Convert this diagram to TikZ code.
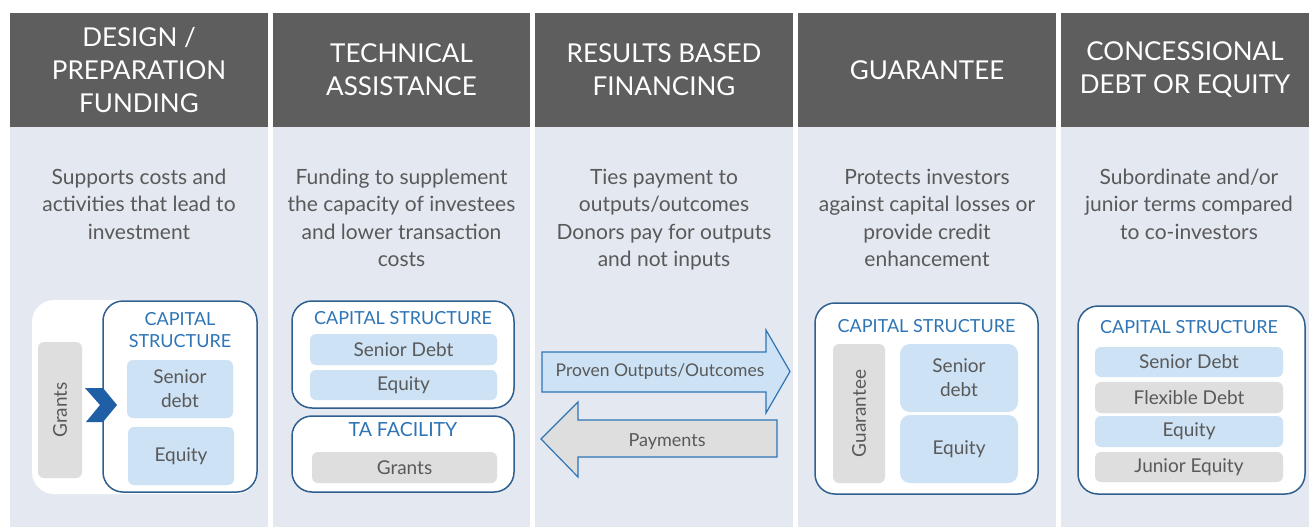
\documentclass[tikz,border=0pt]{standalone}
\usepackage{fontspec}
\setmainfont{Lato}

\definecolor{headgrey}{HTML}{5E5E5E}
\definecolor{bodyblue}{HTML}{E4E9F1}
\definecolor{textgrey}{HTML}{595959}
\definecolor{titleblue}{HTML}{2E75B6}
\definecolor{boxblue}{HTML}{2F5F8F}
\definecolor{barblue}{HTML}{CDE2F5}
\definecolor{bargrey}{HTML}{DEDEDE}
\definecolor{chevblue}{HTML}{1F5FA6}

\begin{document}
\begin{tikzpicture}[x = 1pt, y = -1pt,
	header/.style = {fill = headgrey, text = white, align = center, inner sep = 0,
		minimum height = 114pt, font = \fontsize{26}{33}\selectfont},
	body/.style = {fill = bodyblue, inner sep = 0, minimum height = 400pt},
	blurb/.style = {text = textgrey, align = center, inner sep = 0, anchor = north,
		font = \fontsize{21}{27.5}\selectfont},
	capbox/.style = {draw = boxblue, line width = 1.5pt, fill = white, rounded corners = 20pt, inner sep = 0},
	captitle/.style = {text = titleblue, align = center, inner sep = 0, font = \fontsize{18}{22}\selectfont},
	bar/.style = {text = textgrey, align = center, inner sep = 0, rounded corners = 6pt,
		font = \fontsize{19}{24}\selectfont},
	bluebar/.style = {bar, fill = barblue},
	greybar/.style = {bar, fill = bargrey}]
	
	\useasboundingbox (0, 0) rectangle (1309, 527);
	
	% Column headers and backgrounds
	
	\node [header, minimum width = 258pt] (h1) at (139, 70) {DESIGN /\\PREPARATION\\FUNDING};
	\node [header, minimum width = 257pt] (h2) at (401.5, 70) {TECHNICAL\\ASSISTANCE};
	\node [header, minimum width = 258pt] (h3) at (664, 70) {RESULTS BASED\\FINANCING};
	\node [header, minimum width = 258pt] (h4) at (927, 70) {GUARANTEE};
	\node [header, minimum width = 248pt] (h5) at (1185, 70) {CONCESSIONAL\\DEBT OR EQUITY};
	
	\node [body, minimum width = 258pt] (b1) at (139, 327) {};
	\node [body, minimum width = 257pt] (b2) at (401.5, 327) {};
	\node [body, minimum width = 258pt] (b3) at (664, 327) {};
	\node [body, minimum width = 258pt] (b4) at (927, 327) {};
	\node [body, minimum width = 248pt] (b5) at (1185, 327) {};
	
	% Descriptions
	
	\node [blurb] (d1) at (139, 168.5) {Supports costs and\\activities that lead to\\investment};
	\node [blurb] (d2) at (401.5, 168.5) {Funding to supplement\\the capacity of investees\\and lower transaction\\costs};
	\node [blurb] (d3) at (664, 168.5) {Ties payment to\\outputs/outcomes\\Donors pay for outputs\\and not inputs};
	\node [blurb] (d4) at (927, 168.5) {Protects investors\\against capital losses or\\provide credit\\enhancement};
	\node [blurb] (d5) at (1189, 168.5) {Subordinate and/or\\junior terms compared\\to co-investors};
	
	% Design / preparation funding
	
	\node [fill = white, rounded corners = 22pt, minimum width = 226pt, minimum height = 194pt] (p1) at (145, 397) {};
	\node [capbox, minimum width = 154pt, minimum height = 191pt] (c1) at (180, 396.5) {};
	\node [captitle] (t1) at (180, 330) {CAPITAL\\STRUCTURE};
	\node [bluebar, minimum width = 106pt, minimum height = 58pt] (s1) at (180, 389) {Senior\\debt};
	\node [bluebar, minimum width = 106pt, minimum height = 58pt] (e1) at (181, 456) {Equity};
	\node [greybar, minimum width = 44pt, minimum height = 136pt] (g1) at (60, 410) {};
	\node [text = textgrey, rotate = 90, font = \fontsize{19}{24}\selectfont] at (g1) {Grants};
	\fill [chevblue] (85, 388) -- (103, 388) -- (117, 405) -- (103, 422) -- (86, 422) -- (100, 405) -- cycle;
	
	% Technical assistance
	
	\node [capbox, minimum width = 222pt, minimum height = 107pt] (c2) at (403, 354.5) {};
	\node [captitle] (t2) at (403, 318) {CAPITAL STRUCTURE};
	\node [bluebar, minimum width = 187pt, minimum height = 31pt] (s2) at (403.5, 349.5) {Senior Debt};
	\node [bluebar, minimum width = 187pt, minimum height = 30pt] (e2) at (403.5, 385) {Equity};
	
	\node [capbox, minimum width = 222pt, minimum height = 76pt] (ta) at (403, 454) {};
	\node [captitle, font = \fontsize{19.5}{24}\selectfont] (t3) at (403, 430) {TA FACILITY};
	\node [greybar, minimum width = 185pt, minimum height = 31pt] (g2) at (404.5, 467.5) {Grants};
	
	% Results based financing
	
	\begin{scope}[draw = titleblue, line width = 1.2pt]
	
		\filldraw [fill = barblue] (542, 352) -- (766, 352) -- (766, 330) -- (790, 371.5)
			-- (766, 413) -- (766, 392) -- (542, 392) -- cycle;
		\filldraw [fill = bargrey] (777, 420) -- (578, 420) -- (578, 402) -- (541, 439)
			-- (578, 477) -- (578, 457) -- (777, 457) -- cycle;
		
	\end{scope}
	
	\node [text = textgrey, font = \fontsize{17.5}{20}\selectfont] (po) at (660, 372) {Proven Outputs/Outcomes};
	\node [text = textgrey, font = \fontsize{18}{22}\selectfont] (pay) at (667, 442) {Payments};
	
	% Guarantee
	
	\node [capbox, minimum width = 223pt, minimum height = 191pt] (c4) at (926.5, 398.5) {};
	\node [captitle] (t4) at (926.5, 326) {CAPITAL STRUCTURE};
	\node [greybar, minimum width = 52pt, minimum height = 139pt] (g4) at (859, 413.5) {};
	\node [text = textgrey, rotate = 90, font = \fontsize{19}{24}\selectfont] at (g4) {Guarantee};
	\node [bluebar, rounded corners = 10pt, minimum width = 118pt, minimum height = 68pt] (s4) at (959, 378) {Senior\\debt};
	\node [bluebar, rounded corners = 10pt, minimum width = 118pt, minimum height = 68pt] (e4) at (959, 449) {Equity};
	
	% Concessional debt or equity
	
	\node [capbox, minimum width = 227pt, minimum height = 188pt] (c5) at (1191.5, 400) {};
	\node [captitle] (t5) at (1189, 327) {CAPITAL STRUCTURE};
	\node [bluebar, minimum width = 188pt, minimum height = 30pt] (s5) at (1189, 362) {Senior Debt};
	\node [greybar, minimum width = 188pt, minimum height = 31pt] (f5) at (1189, 397.5) {Flexible Debt};
	\node [bluebar, minimum width = 188pt, minimum height = 31pt] (e5) at (1189, 431.5) {Equity};
	\node [greybar, minimum width = 188pt, minimum height = 30pt] (j5) at (1189, 467) {Junior Equity};

\end{tikzpicture}
\end{document}
